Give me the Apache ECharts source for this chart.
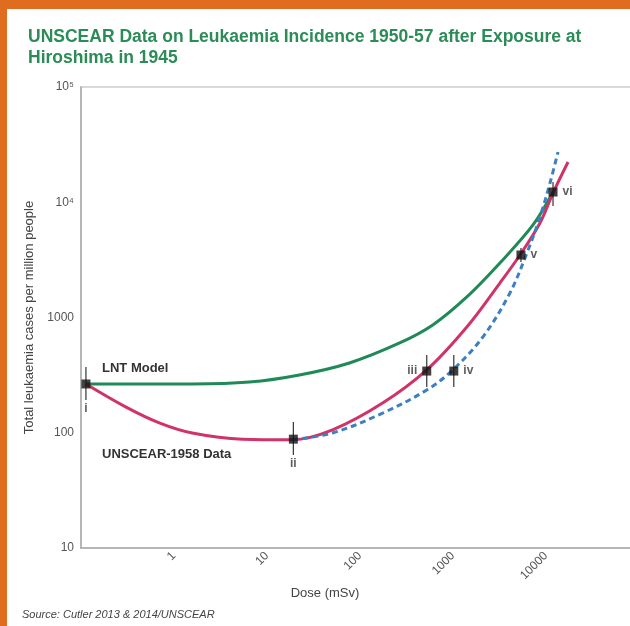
<!DOCTYPE html>
<html>
<head>
<meta charset="utf-8">
<script src="https://cdn.jsdelivr.net/npm/echarts@6/dist/echarts.min.js"></script>
<style>
  html, body { margin: 0; padding: 0; background: #fff; }
  #main { width: 630px; height: 626px; }
</style>
</head>
<body>
<div id="main"></div>
<script>
// dose in mSv, cases per million
const lntDose = [0.113, 1.57, 6.45, 22.3, 77, 267, 606, 1408, 3193, 7244, 11900];
const lntCases = [265, 265, 275, 317, 403, 601, 861, 1507, 2972, 6353, 12270];

const unscearDose = [0.113, 0.305, 0.693, 1.57, 5.43, 18.8, 50.7, 175, 522, 1408, 3193, 5248, 8610, 11890, 17260];
const unscearCases = [265, 167, 122, 99.6, 88, 87, 106, 181, 351, 827, 1991, 3485, 6607, 12020, 22340];

const fitDose = [18.8, 50.7, 175, 522, 995, 2094, 4093, 6237, 8610, 11040, 13460];
const fitCases = [87, 99.6, 148, 235, 351, 677, 1633, 3631, 7447, 14690, 27290];

const pointNames = ['i', 'ii', 'iii', 'iv', 'v', 'vi'];
const pointDose = [0.113, 19.2, 522, 1020, 5380, 11900];
const pointCases = [265, 88, 343, 343, 3485, 12270];
const errLow = [192, 64, 250, 250, 3033, 9270];
const errHigh = [372, 124, 473, 473, 4010, 15000];

const xTickLabels = { 1: '1', 10: '10', 100: '100', 1000: '1000', 10000: '10000' };
const yTickLabels = { 10: '10', 100: '100', 1000: '1000', 10000: '10\u2074', 100000: '10\u2075' };

const labelPos = { i: 'bottom', ii: 'bottom', iii: 'left', iv: 'right', v: 'right', vi: 'right' };

const FONT = 'Liberation Sans, Arial, sans-serif';

const zip = (a, b) => a.map((v, i) => [v, b[i]]);
const tickText = (map, v) => {
  const key = Math.round(v);
  return map[key] !== undefined && Math.abs(v - key) < 1e-6 * Math.max(1, v) ? map[key] : '';
};

const chart = echarts.init(document.getElementById('main'), null, { renderer: 'canvas' });

const option = {
  animation: false,
  backgroundColor: '#fff',
  textStyle: { fontFamily: FONT },
  title: {
    text: 'UNSCEAR Data on Leukaemia Incidence 1950-57 after Exposure at\nHiroshima in 1945',
    left: 28,
    top: 27,
    padding: 0,
    textStyle: {
      fontSize: 17.5,
      fontWeight: 'bold',
      color: '#2b8c58',
      lineHeight: 21,
      fontFamily: FONT
    }
  },
  graphic: [
    { type: 'rect', shape: { x: 0, y: 0, width: 630, height: 9 }, style: { fill: '#e06c20' }, silent: true },
    { type: 'rect', shape: { x: 0, y: 0, width: 7, height: 626 }, style: { fill: '#e06c20' }, silent: true },
    {
      type: 'text', left: 102, top: 362,
      style: { text: 'LNT Model', fontSize: 13, fontWeight: 'bold', fill: '#333', fontFamily: FONT }
    },
    {
      type: 'text', left: 102, top: 448,
      style: { text: 'UNSCEAR-1958 Data', fontSize: 13, fontWeight: 'bold', fill: '#333', fontFamily: FONT }
    },
    {
      type: 'text', x: 325, y: 593,
      style: { text: 'Dose (mSv)', fontSize: 13, fill: '#444', align: 'center', verticalAlign: 'middle', fontFamily: FONT }
    },
    {
      type: 'text', left: 22, top: 609,
      style: { text: 'Source: Cutler 2013 & 2014/UNSCEAR', fontSize: 11, fontStyle: 'italic', fill: '#444', fontFamily: FONT }
    }
  ],
  grid: {
    left: 81,
    width: 558,
    top: 87,
    bottom: 78,
    outerBoundsMode: 'none',
    show: true,
    borderColor: '#d9d9d9',
    borderWidth: 2
  },
  xAxis: {
    type: 'log',
    logBase: 10,
    min: 0.1,
    max: 100000,
    interval: 1,
    axisLine: { lineStyle: { color: '#aaa', width: 1.5 } },
    axisTick: { show: false },
    splitLine: { show: false },
    axisLabel: {
      rotate: 45,
      margin: 6,
      fontSize: 12,
      color: '#555',
      formatter: v => tickText(xTickLabels, v)
    }
  },
  yAxis: {
    type: 'log',
    logBase: 10,
    min: 10,
    max: 100000,
    interval: 1,
    name: 'Total leukaemia cases per million people',
    nameLocation: 'middle',
    nameGap: 42,
    nameTextStyle: { fontSize: 13, color: '#444' },
    axisLine: { lineStyle: { color: '#aaa', width: 1.5 } },
    axisTick: { show: false },
    splitLine: { show: false },
    axisLabel: {
      margin: 7,
      fontSize: 12,
      color: '#555',
      formatter: v => tickText(yTickLabels, v)
    }
  },
  series: [
    {
      name: 'LNT Model',
      type: 'line',
      smooth: 0.35,
      showSymbol: false,
      lineStyle: { color: '#1f8a58', width: 3 },
      data: zip(lntDose, lntCases),
      z: 2
    },
    {
      name: 'UNSCEAR-1958 Data',
      type: 'line',
      smooth: 0.35,
      showSymbol: false,
      lineStyle: { color: '#d03466', width: 3 },
      data: zip(unscearDose, unscearCases),
      z: 3
    },
    {
      name: 'Fit',
      type: 'line',
      smooth: 0.35,
      showSymbol: false,
      lineStyle: { color: '#3c80c2', width: 3, type: [6, 4] },
      data: zip(fitDose, fitCases),
      z: 4
    },
    {
      name: 'Error',
      type: 'custom',
      z: 5,
      data: pointDose.map((d, i) => [d, errLow[i], errHigh[i]]),
      renderItem: (params, api) => {
        const lo = api.coord([api.value(0), api.value(1)]);
        const hi = api.coord([api.value(0), api.value(2)]);
        return {
          type: 'line',
          shape: { x1: lo[0], y1: lo[1], x2: hi[0], y2: hi[1] },
          style: { stroke: '#333', lineWidth: 1.2 }
        };
      }
    },
    {
      name: 'Points',
      type: 'scatter',
      symbol: 'rect',
      symbolSize: 9,
      z: 6,
      itemStyle: { color: '#111' },
      data: pointNames.map((n, i) => ({
        value: [pointDose[i], pointCases[i]],
        name: n,
        label: {
          show: true,
          formatter: n,
          position: labelPos[n],
          distance: labelPos[n] === 'bottom' ? 14 : 5,
          fontSize: 12,
          fontWeight: 'bold',
          color: '#333'
        }
      }))
    }
  ]
};

chart.setOption(option);

window.onresize = () => {
  chart.resize();
};
</script>
</body>
</html>
